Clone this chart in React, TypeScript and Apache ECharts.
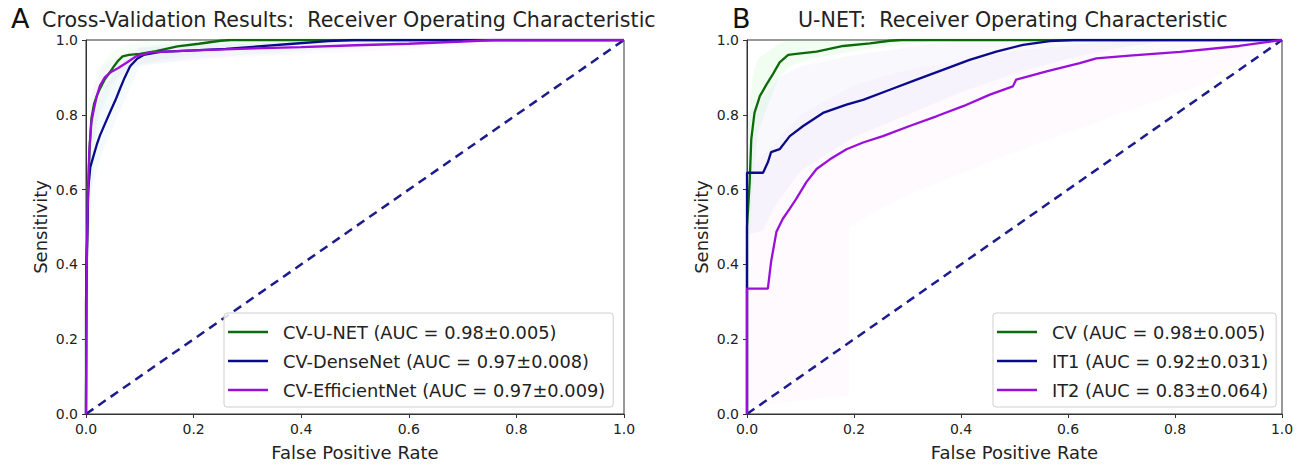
import React, { useEffect, useRef } from "react";
import * as echarts from "echarts";

// ---------- Data ----------
const tickValues = [0, 0.2, 0.4, 0.6, 0.8, 1.0];

// Panel A: cross-validation ROC curves  [FPR, TPR]
const cvUnetCurve: number[][] = [
  [0, 0], [0, 0.3], [0.002, 0.45], [0.004, 0.6], [0.007, 0.72], [0.01, 0.79], [0.015, 0.83],
  [0.02, 0.85], [0.026, 0.87], [0.035, 0.895], [0.045, 0.915], [0.052, 0.93], [0.06, 0.945],
  [0.068, 0.956], [0.08, 0.96], [0.1, 0.963], [0.13, 0.97], [0.17, 0.983], [0.21, 0.99],
  [0.25, 0.998], [0.27, 1.0], [1, 1],
];
const cvDenseCurve: number[][] = [
  [0, 0], [0.001, 0.4], [0.004, 0.6], [0.008, 0.66], [0.014, 0.69], [0.02, 0.72], [0.026, 0.745],
  [0.035, 0.775], [0.045, 0.808], [0.055, 0.84], [0.063, 0.869], [0.072, 0.9], [0.082, 0.93],
  [0.095, 0.95], [0.107, 0.96], [0.138, 0.968], [0.2, 0.972], [0.26, 0.976], [0.32, 0.983],
  [0.385, 0.99], [0.45, 0.997], [0.5, 1], [1, 1],
];
const cvEffCurve: number[][] = [
  [0, 0], [0.001, 0.35], [0.003, 0.55], [0.006, 0.7], [0.01, 0.78], [0.014, 0.81], [0.02, 0.85],
  [0.026, 0.878], [0.035, 0.9], [0.045, 0.913], [0.06, 0.925], [0.076, 0.94], [0.094, 0.957],
  [0.12, 0.967], [0.2, 0.972], [0.3, 0.977], [0.4, 0.981], [0.5, 0.986], [0.6, 0.99],
  [0.7, 0.996], [0.76, 1], [1, 1],
];
// Panel A std bands
const cvUnetUpper: number[][] = [[0, 0.55], [0.005, 0.8], [0.02, 0.92], [0.05, 0.97], [0.08, 0.99], [0.12, 1], [1, 1]];
const cvUnetLower: number[][] = [[0, 0.1], [0.005, 0.45], [0.02, 0.78], [0.05, 0.88], [0.08, 0.93], [0.15, 0.95], [0.3, 0.98], [0.4, 1], [1, 1]];
const cvDenseUpper: number[][] = [[0, 0.6], [0.01, 0.78], [0.03, 0.86], [0.06, 0.93], [0.1, 0.98], [0.15, 0.99], [0.3, 1], [1, 1]];
const cvDenseLower: number[][] = [[0, 0.2], [0.01, 0.6], [0.03, 0.7], [0.06, 0.8], [0.1, 0.93], [0.2, 0.95], [0.4, 0.97], [0.6, 0.99], [0.8, 1], [1, 1]];
const cvEffUpper: number[][] = [[0, 0.6], [0.01, 0.85], [0.03, 0.93], [0.06, 0.96], [0.1, 0.98], [0.3, 0.99], [0.5, 1], [1, 1]];
const cvEffLower: number[][] = [[0, 0.15], [0.01, 0.7], [0.03, 0.86], [0.06, 0.9], [0.1, 0.935], [0.3, 0.955], [0.6, 0.975], [0.9, 1], [1, 1]];

// Panel B: U-NET ROC curves  [FPR, TPR]
const cvCurve: number[][] = [
  [0, 0], [0, 0.5], [0.005, 0.62], [0.008, 0.735], [0.014, 0.805], [0.024, 0.85], [0.036, 0.88],
  [0.049, 0.91], [0.061, 0.94], [0.077, 0.96], [0.092, 0.963], [0.13, 0.969], [0.18, 0.984],
  [0.23, 0.991], [0.267, 0.998], [0.29, 1], [1, 1],
];
const it1Curve: number[][] = [
  [0, 0], [0, 0.645], [0.03, 0.645], [0.039, 0.673], [0.045, 0.7], [0.061, 0.708], [0.08, 0.743],
  [0.105, 0.77], [0.142, 0.805], [0.186, 0.827], [0.217, 0.84], [0.267, 0.867], [0.317, 0.894],
  [0.366, 0.92], [0.416, 0.947], [0.466, 0.969], [0.516, 0.987], [0.566, 0.997], [0.61, 1], [1, 1],
];
const it2Curve: number[][] = [
  [0, 0], [0, 0.335], [0.039, 0.335], [0.045, 0.407], [0.055, 0.487], [0.067, 0.522], [0.08, 0.549],
  [0.092, 0.575], [0.111, 0.62], [0.13, 0.655], [0.155, 0.681], [0.186, 0.708], [0.217, 0.726],
  [0.254, 0.743], [0.304, 0.77], [0.354, 0.796], [0.404, 0.823], [0.454, 0.854], [0.497, 0.876],
  [0.503, 0.894], [0.56, 0.916], [0.622, 0.938], [0.653, 0.951], [0.715, 0.958], [0.81, 0.968],
  [0.92, 0.984], [1, 1],
];
// Panel B std bands
const cvUpper: number[][] = [[0, 0.75], [0.01, 0.9], [0.02, 0.95], [0.04, 0.97], [0.06, 0.99], [0.08, 1], [1, 1]];
const cvLower: number[][] = [[0, 0.3], [0.01, 0.6], [0.02, 0.75], [0.04, 0.83], [0.06, 0.9], [0.08, 0.93], [0.12, 0.95], [0.2, 0.97], [0.3, 0.99], [0.4, 1], [1, 1]];
const it1Upper: number[][] = [[0, 0.8], [0.03, 0.85], [0.06, 0.9], [0.1, 0.93], [0.2, 0.96], [0.3, 0.98], [0.4, 1], [1, 1]];
const it1Lower: number[][] = [[0, 0.48], [0.03, 0.49], [0.05, 0.55], [0.1, 0.65], [0.2, 0.74], [0.3, 0.8], [0.4, 0.86], [0.5, 0.91], [0.6, 0.95], [0.7, 0.98], [0.8, 1], [1, 1]];
const it2Upper: number[][] = [[0, 0.65], [0.05, 0.72], [0.1, 0.8], [0.2, 0.88], [0.3, 0.92], [0.5, 0.97], [0.7, 1], [1, 1]];
const it2Lower: number[][] = [[0, 0.02], [0.19, 0.05], [0.19, 0.5], [0.25, 0.55], [0.34, 0.61], [0.53, 0.716], [0.71, 0.81], [0.85, 0.88], [1, 1]];

const diagonal: number[][] = [[0, 0], [1, 1]];

const namesA = [
  "CV-U-NET (AUC = 0.98±0.005)",
  "CV-DenseNet (AUC = 0.97±0.008)",
  "CV-EfficientNet (AUC = 0.97±0.009)",
];
const namesB = [
  "CV (AUC = 0.98±0.005)",
  "IT1 (AUC = 0.92±0.031)",
  "IT2 (AUC = 0.83±0.064)",
];

const GREEN = "#0b6b0b";
const BLUE = "#0a0a8a";
const PURPLE = "#9a10d8";
const NAVY = "#1c1c8c";
const FONT = "DejaVu Sans";
const TEXT = "#222";

function band(idx: number, upper: number[][], lower: number[][], fill: string) {
  return {
    type: "custom",
    xAxisIndex: idx,
    yAxisIndex: idx,
    silent: true,
    z: 1,
    data: [[upper[0][0], upper[0][1]]],
    renderItem: (params: any, api: any) => {
      if (params.dataIndex !== 0) return null;
      const pts = upper
        .map((p) => api.coord(p))
        .concat(lower.slice().reverse().map((p) => api.coord(p)));
      return { type: "polygon", shape: { points: pts }, style: { fill } };
    },
  };
}

function curve(idx: number, name: string, data: number[][], color: string) {
  return {
    type: "line",
    name,
    xAxisIndex: idx,
    yAxisIndex: idx,
    data,
    showSymbol: false,
    symbol: "none",
    z: 3,
    lineStyle: { color, width: 2.3 },
    itemStyle: { color },
  };
}

function diag(idx: number) {
  return {
    type: "line",
    xAxisIndex: idx,
    yAxisIndex: idx,
    data: diagonal,
    showSymbol: false,
    symbol: "none",
    z: 2,
    lineStyle: { color: NAVY, width: 2.5, type: [9, 6] },
  };
}

function axis(idx: number, isX: boolean) {
  return {
    type: "value",
    gridIndex: idx,
    min: 0,
    max: 1,
    interval: 0.2,
    name: isX ? "False Positive Rate" : "Sensitivity",
    nameLocation: "middle",
    nameGap: isX ? 29 : 37,
    nameTextStyle: { fontFamily: FONT, fontSize: 18, color: TEXT },
    axisLine: { show: true, lineStyle: { color: "#333", width: 1 } },
    axisTick: { show: true, inside: false, length: 4, lineStyle: { color: "#333" } },
    axisLabel: {
      fontFamily: FONT,
      fontSize: 14,
      color: TEXT,
      margin: 8,
      formatter: (v: number) => (tickValues.includes(Math.round(v * 10) / 10) ? v.toFixed(1) : ""),
    },
    splitLine: { show: false },
  };
}

function legend(idx: number, names: string[], left: number) {
  return {
    show: true,
    data: names,
    orient: "vertical",
    left,
    top: 313,
    icon: "rect",
    itemWidth: 40,
    itemHeight: 2.5,
    itemGap: 11,
    padding: [10, 8, 8, 4],
    borderColor: "#cfcfcf",
    borderWidth: 1,
    borderRadius: 3,
    backgroundColor: "rgba(255,255,255,0.85)",
    selectedMode: false,
    textStyle: { fontFamily: FONT, fontSize: 17.8, color: TEXT, padding: [0, 0, 0, 10] },
  };
}

export default function App() {
  const ref = useRef<HTMLDivElement>(null);
  useEffect(() => {
    if (!ref.current) return;
    const chart = echarts.init(ref.current, null, { renderer: "svg" });
    chart.setOption({
      animation: false,
      backgroundColor: "#fff",
      grid: [
        { left: 86, top: 40, width: 538, height: 376, show: true, borderColor: "#333", borderWidth: 1, backgroundColor: "transparent" },
        { left: 747, top: 40, width: 535, height: 376, show: true, borderColor: "#333", borderWidth: 1, backgroundColor: "transparent" },
      ],
      xAxis: [axis(0, true), axis(1, true)],
      yAxis: [axis(0, false), axis(1, false)],
      legend: [legend(0, namesA, 224), legend(1, namesB, 993)],
      graphic: [
        { type: "text", left: 11, top: 5, style: { text: "A", fontFamily: FONT, fontSize: 27, fill: "#111" } },
        { type: "text", left: 42, top: 9, style: { text: "Cross-Validation Results:  Receiver Operating Characteristic", fontFamily: FONT, fontSize: 20.6, fill: "#222" } },
        { type: "text", left: 732, top: 5, style: { text: "B", fontFamily: FONT, fontSize: 27, fill: "#111" } },
        { type: "text", left: 798, top: 9, style: { text: "U-NET:  Receiver Operating Characteristic", fontFamily: FONT, fontSize: 20.6, fill: "#222" } },
      ],
      series: [
        band(0, cvUnetUpper, cvUnetLower, "rgba(144,238,144,0.07)"),
        band(0, cvDenseUpper, cvDenseLower, "rgba(173,216,230,0.12)"),
        band(0, cvEffUpper, cvEffLower, "rgba(238,130,238,0.05)"),
        diag(0),
        curve(0, namesA[0], cvUnetCurve, GREEN),
        curve(0, namesA[1], cvDenseCurve, BLUE),
        curve(0, namesA[2], cvEffCurve, PURPLE),
        band(1, it2Upper, it2Lower, "rgba(238,130,238,0.045)"),
        band(1, it1Upper, it1Lower, "rgba(160,160,230,0.07)"),
        band(1, cvUpper, cvLower, "rgba(144,238,144,0.12)"),
        diag(1),
        curve(1, namesB[0], cvCurve, GREEN),
        curve(1, namesB[1], it1Curve, BLUE),
        curve(1, namesB[2], it2Curve, PURPLE),
      ],
    });
    return () => chart.dispose();
  }, []);
  return (
    <div
      ref={ref}
      style={{ position: "absolute", left: 0, top: 0, width: 1308, height: 466 }}
    />
  );
}
